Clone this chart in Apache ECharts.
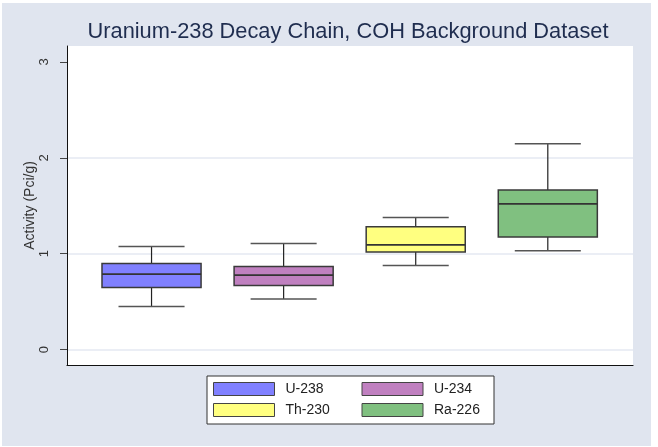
<!DOCTYPE html>
<html>
<head>
<meta charset="utf-8">
<script src="https://cdn.jsdelivr.net/npm/echarts@6/dist/echarts.min.js"></script>
<style>
  html, body { margin: 0; background: #fff; }
  #main { position: absolute; left: 2px; top: 3px; width: 649px; height: 443px; }
</style>
</head>
<body>
<div id="main"></div>
<script>
// box plot statistics (Pci/g)
const categories = ['U-238', 'U-234', 'Th-230', 'Ra-226'];
const lowWhisker = [0.449, 0.527, 0.877, 1.030];
const q1 = [0.648, 0.668, 1.017, 1.173];
const median = [0.787, 0.777, 1.093, 1.520];
const q3 = [0.898, 0.867, 1.280, 1.663];
const highWhisker = [1.075, 1.106, 1.377, 2.146];
const yTicks = [0, 1, 2, 3];
const gridTicks = [0, 1, 2];
const colors = ['#8080ff', '#c080c0', '#ffff80', '#80c080'];

const BOX_W = 0.75;
const CAP_W = 0.5;

function seg(x1, y1, x2, y2, stroke, w) {
  return { type: 'line', shape: { x1, y1, x2, y2 }, style: { stroke, lineWidth: w } };
}

// draws one box + whiskers from [x, min, q1, median, q3, max]
function renderBox(params, api) {
  const x = api.value(0);
  const pMin = api.coord([x, api.value(1)]);
  const pQ1 = api.coord([x, api.value(2)]);
  const pMed = api.coord([x, api.value(3)]);
  const pQ3 = api.coord([x, api.value(4)]);
  const pMax = api.coord([x, api.value(5)]);
  const bw = api.size([BOX_W, 0])[0];
  const cw = api.size([CAP_W, 0])[0];
  const cx = pMed[0];
  return {
    type: 'group',
    children: [
      seg(cx, pMax[1], cx, pQ3[1], '#222', 1.2),
      seg(cx, pQ1[1], cx, pMin[1], '#222', 1.2),
      seg(cx - cw / 2, pMax[1], cx + cw / 2, pMax[1], '#555', 1.5),
      seg(cx - cw / 2, pMin[1], cx + cw / 2, pMin[1], '#555', 1.5),
      {
        type: 'rect',
        shape: { x: cx - bw / 2, y: pQ3[1], width: bw, height: pQ1[1] - pQ3[1] },
        style: { fill: api.visual('color'), stroke: '#3a3a3a', lineWidth: 1.5 }
      },
      seg(cx - bw / 2, pMed[1], cx + bw / 2, pMed[1], '#333', 1.8)
    ]
  };
}

const chart = echarts.init(document.getElementById('main'));

const option = {
  backgroundColor: '#e0e5ef',
  animation: false,
  textStyle: { fontFamily: 'Liberation Sans, Arial, sans-serif' },
  title: {
    text: 'Uranium-238 Decay Chain, COH Background Dataset',
    left: 341,
    textAlign: 'center',
    top: 13,
    textStyle: { fontSize: 21.8, fontWeight: 'normal', color: '#1f2d4f' }
  },
  legend: {
    orient: 'vertical',
    left: 205,
    top: 373,
    height: 40,
    padding: [6, 6, 7, 6],
    itemGap: 7,
    itemWidth: 61,
    itemHeight: 13,
    selectedMode: false,
    backgroundColor: '#fff',
    borderColor: '#333',
    borderWidth: 1,
    icon: 'rect',
    itemStyle: { borderColor: '#444', borderWidth: 1 },
    textStyle: {
      fontSize: 14, color: '#222', lineHeight: 14,
      padding: [0, 0, 0, 6], backgroundColor: 'rgba(0,0,0,0)'
    },
    data: [
      { name: categories[0], textStyle: { width: 69 } },
      { name: categories[2], textStyle: { width: 69 } },
      { name: categories[1], textStyle: { width: 54 } },
      { name: categories[3], textStyle: { width: 54 } }
    ]
  },
  grid: {
    left: 65, top: 43, right: 18, bottom: 81,
    show: true, backgroundColor: '#fff', borderWidth: 0
  },
  xAxis: {
    type: 'value',
    min: 0.36,
    max: 4.645,
    axisLine: { show: true, onZero: false, lineStyle: { color: '#111', width: 1.2 } },
    axisTick: { show: false },
    axisLabel: { show: false },
    splitLine: { show: false }
  },
  yAxis: [
    {
      type: 'value',
      min: -0.16,
      max: 3.165,
      position: 'left',
      name: 'Activity (Pci/g)',
      nameLocation: 'middle',
      nameGap: 30,
      nameMoveOverlap: false,
      nameTextStyle: { fontSize: 14, color: '#333' },
      axisLine: { show: true, onZero: false, lineStyle: { color: '#111', width: 1 } },
      axisTick: { show: true, length: 7, customValues: yTicks, lineStyle: { color: '#444' } },
      axisLabel: { customValues: yTicks, rotate: 90, fontSize: 13, color: '#333', margin: 16 },
      splitLine: { show: false }
    },
    {
      type: 'value',
      min: -0.16,
      max: 3.165,
      position: 'left',
      axisLine: { show: false },
      axisTick: { show: false, customValues: gridTicks },
      axisLabel: { show: false },
      splitLine: { show: true, lineStyle: { color: '#e4e9f2', width: 1.5 } }
    }
  ],
  series: categories.map((name, i) => ({
    name,
    type: 'custom',
    renderItem: renderBox,
    itemStyle: { color: colors[i] },
    encode: { x: 0, y: [1, 2, 3, 4, 5] },
    data: [[i + 1, lowWhisker[i], q1[i], median[i], q3[i], highWhisker[i]]]
  }))
};

chart.setOption(option);
</script>
</body>
</html>
